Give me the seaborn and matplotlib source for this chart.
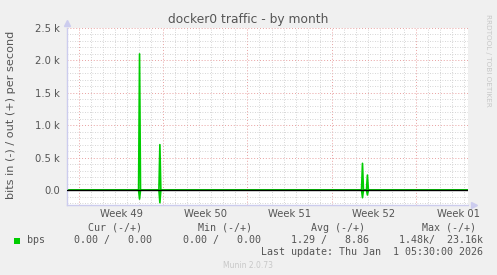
import matplotlib
matplotlib.use("Agg")
import matplotlib.pyplot as plt
import numpy as np
import pandas as pd
import seaborn as sns

# ---- data ----
days = [0.0, 5.95, 6.03, 6.11, 7.64, 7.72, 7.80, 24.48, 24.56, 24.64, 24.89, 24.97, 25.05, 33.33]
out_bps = [0, 0, 2100, 0, 0, 700, 0, 0, 412, 0, 0, 231, 0, 0]
in_bps = [0, 0, -140, 0, 0, -196, 0, 0, -119, 0, 0, -77, 0, 0]
week_bounds = [1.0, 8.0, 15.0, 22.0, 29.0]
week_labels = ["Week 49", "Week 50", "Week 51", "Week 52", "Week 01"]
yticks = [0, 500, 1000, 1500, 2000, 2500]
ytick_labels = ["0.0", "0.5 k", "1.0 k", "1.5 k", "2.0 k", "2.5 k"]
legend_cols = ["Cur (-/+)", "Min (-/+)", "Avg (-/+)", "Max (-/+)"]
legend_vals = ["0.00 /   0.00", "0.00 /   0.00", "1.29 /   8.86", "1.48k/  23.16k"]

sns.set_style("white")
plt.rcParams['font.family'] = ['DejaVu Sans']

W, H = 497, 275
fig = plt.figure(figsize=(W / 100, H / 100), dpi=100, facecolor="#f0f0f0")
L, R, T, B = 67, 468, 28, 205
ax = fig.add_axes([L / W, 1 - B / H, (R - L) / W, (B - T) / H])
ax.set_facecolor("white")

df = pd.DataFrame({"day": days * 2, "bps": out_bps + in_bps,
                   "dir": ["out"] * len(days) + ["in"] * len(days)})
green = "#00cc00"
sns.lineplot(data=df, x="day", y="bps", hue="dir", palette={"out": green, "in": green},
             ax=ax, legend=False, linewidth=1.2, estimator=None, sort=False)

ax.set_xlim(0, 33.33)
ax.set_ylim(-231, 2500)

# grids
minor_x = np.arange(0, 33.4, 1.0)
ax.set_xticks(week_bounds)
ax.set_xticks(minor_x, minor=True)
ax.set_xticklabels([])
ax.set_yticks(yticks)
ax.set_yticks(np.arange(-200, 2501, 100), minor=True)
ax.set_yticklabels(ytick_labels, fontsize=7.2, color="#555555")
ax.grid(which="minor", color="#c8c8c8", linestyle=(0, (1, 2)), linewidth=0.6)
ax.grid(which="major", color="#e8a0a0", linestyle=(0, (1, 2)), linewidth=0.7)
ax.set_axisbelow(True)
ax.tick_params(axis="x", which="major", length=3, color="#e08080", direction="out", pad=2)
ax.tick_params(axis="x", which="minor", length=2, color="#aaaaaa", direction="out")
ax.tick_params(axis="y", which="major", length=2, color="#e08080", direction="out", pad=3)
ax.tick_params(axis="y", which="minor", length=1.5, color="#aaaaaa", direction="out")

for w, lab in zip(week_bounds, week_labels):
    ax.text(w + 3.5, -0.025, lab, transform=ax.get_xaxis_transform(), ha="center", va="top",
            fontsize=7.2, color="#555555")

ax.axhline(0, color="black", linewidth=1.0, zorder=3)
for s in ["top", "right"]:
    ax.spines[s].set_visible(False)
ax.spines["left"].set_color("#ccccee")
ax.spines["bottom"].set_color("#ccccee")
ax.spines["left"].set_linewidth(1.0)
ax.spines["bottom"].set_linewidth(1.0)
ax.plot([0], [1.03], marker="^", color="#ccccee", markersize=4, transform=ax.transAxes, clip_on=False)
ax.plot([1.015], [0], marker=">", color="#ccccee", markersize=4, transform=ax.transAxes, clip_on=False)
ax.set_xlabel("")
ax.set_ylabel("")
fig.text(11 / W, 1 - 115 / H, "bits in (-) / out (+) per second", rotation=90, ha="center", va="center",
         fontsize=8.1, color="#555555")

fig.text(248 / W, 1 - 19 / H, "docker0 traffic - by month", ha="center", va="center",
         fontsize=8.8, color="#555555")
fig.text(488 / W, 1 - 60 / H, "RRDTOOL / TOBI OETIKER", rotation=270, ha="center", va="center",
         fontsize=5.2, color="#c8c8c8")

mono = "DejaVu Sans Mono"
col_centers = [115, 225, 338, 449]
col_right = [152, 261, 369, 483]
for c, lab in zip(col_centers, legend_cols):
    fig.text(c / W, 1 - 228 / H, lab, ha="center", va="center", fontsize=7.2, family=mono, color="#555555")
for r, v in zip(col_right, legend_vals):
    fig.text(r / W, 1 - 240 / H, v, ha="right", va="center", fontsize=7.2, family=mono, color="#555555")
fig.patches.append(plt.Rectangle((14 / W, 1 - 243.5 / H), 6 / W, 6 / H, transform=fig.transFigure,
                                 facecolor=green, edgecolor="none"))
fig.text(27 / W, 1 - 240 / H, "bps", ha="left", va="center", fontsize=7.2, family=mono, color="#555555")
fig.text(483 / W, 1 - 252 / H, "Last update: Thu Jan  1 05:30:00 2026", ha="right", va="center",
         fontsize=7.2, family=mono, color="#555555")
fig.text(248 / W, 1 - 265 / H, "Munin 2.0.73", ha="center", va="center", fontsize=5.5, color="#c8c8c8")

fig.savefig("out.png", dpi=100, facecolor=fig.get_facecolor())
